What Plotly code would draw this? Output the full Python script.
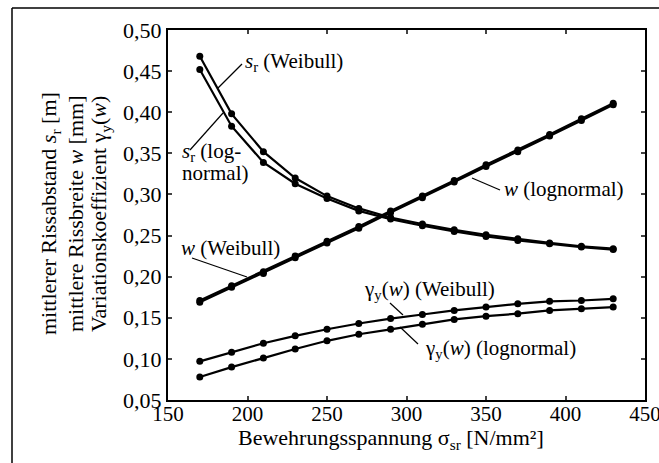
import plotly.graph_objects as go

sigma = [170, 190, 210, 230, 250, 270, 290, 310, 330, 350, 370, 390, 410, 430]
sr_weibull = [0.468, 0.398, 0.352, 0.320, 0.298, 0.283, 0.272, 0.264, 0.257, 0.251, 0.246, 0.241, 0.237, 0.234]
sr_lognormal = [0.452, 0.383, 0.339, 0.313, 0.295, 0.280, 0.270, 0.262, 0.255, 0.249, 0.244, 0.240, 0.236, 0.233]
w_weibull = [0.169, 0.187, 0.204, 0.223, 0.241, 0.259, 0.278, 0.296, 0.315, 0.334, 0.352, 0.371, 0.390, 0.409]
w_lognormal = [0.171, 0.189, 0.206, 0.225, 0.243, 0.261, 0.280, 0.298, 0.317, 0.336, 0.354, 0.373, 0.392, 0.411]
gamma_weibull = [0.097, 0.108, 0.119, 0.128, 0.136, 0.143, 0.149, 0.154, 0.159, 0.163, 0.167, 0.170, 0.171, 0.173]
gamma_lognormal = [0.078, 0.090, 0.101, 0.112, 0.122, 0.130, 0.136, 0.142, 0.148, 0.152, 0.155, 0.159, 0.161, 0.163]

x_ticks = [150, 200, 250, 300, 350, 400, 450]
y_ticks = [0.05, 0.10, 0.15, 0.20, 0.25, 0.30, 0.35, 0.40, 0.45, 0.50]

FONT = "Liberation Serif"

fig = go.Figure()
for ys in [sr_weibull, sr_lognormal, w_weibull, w_lognormal, gamma_weibull, gamma_lognormal]:
    fig.add_trace(go.Scatter(
        x=sigma, y=ys, mode="lines+markers",
        line=dict(color="black", width=2.2),
        marker=dict(color="black", size=7),
        showlegend=False, hoverinfo="skip"))

# pixel -> data helpers for labels/leader lines
def dx(px):
    return 150 + (px - 168) / 1.59

def dy(py):
    return 0.05 + (400 - py) * 0.45 / 370

labels = [
    ("<i>s</i><sub>r</sub> (Weibull)", 243, 62),
    ("<i>s</i><sub>r</sub> (log-", 180, 152),
    ("normal)", 180, 173),
    ("<i>w</i> (Weibull)", 179, 248),
    ("<i>w</i> (lognormal)", 502, 189),
    ("γ<sub>y</sub>(<i>w</i>) (Weibull)", 362, 290),
    ("γ<sub>y</sub>(<i>w</i>) (lognormal)", 423, 349),
]
for txt, px, py in labels:
    fig.add_annotation(x=dx(px), y=dy(py), text=txt, showarrow=False,
                       xanchor="left", yanchor="middle",
                       font=dict(family=FONT, size=21, color="black"))

leaders = [
    (218, 88, 242, 64),
    (190, 150, 223, 113),
    (192, 258, 247, 277),
    (500, 190, 472, 178),
    (390, 303, 403, 315),
    (418, 344, 400, 327),
]
for x0, y0, x1, y1 in leaders:
    fig.add_shape(type="line", x0=dx(x0), y0=dy(y0), x1=dx(x1), y1=dy(y1),
                  line=dict(color="black", width=1.2))

# outer frame (top and left edges)
W, H = 477, 370
fig.add_shape(type="line", xref="paper", yref="paper",
              x0=(12 - 168) / W, y0=(400 - 8) / H, x1=(660 - 168) / W, y1=(400 - 8) / H,
              line=dict(color="black", width=1.5))
fig.add_shape(type="line", xref="paper", yref="paper",
              x0=(12 - 168) / W, y0=(400 - 8) / H, x1=(12 - 168) / W, y1=(400 - 470) / H,
              line=dict(color="black", width=1.5))

# axis titles (three rotated lines)
ytitle_lines = [
    ("mittlerer Rissabstand <i>s</i><sub>r</sub> [m]", 50),
    ("mittlere Rissbreite <i>w</i> [mm]", 75),
    ("Variationskoeffizient γ<sub>y</sub>(<i>w</i>)", 100),
]
for txt, px in ytitle_lines:
    fig.add_annotation(xref="paper", yref="paper", x=(px - 168) / W, y=(400 - 214) / H,
                       text=txt, textangle=-90, showarrow=False,
                       xanchor="center", yanchor="middle",
                       font=dict(family=FONT, size=22, color="black"))
fig.add_annotation(xref="paper", yref="paper", x=(391 - 168) / W, y=(400 - 439) / H,
                   text="Bewehrungsspannung σ<sub>sr</sub> [N/mm²]",
                   showarrow=False, xanchor="center", yanchor="middle",
                   font=dict(family=FONT, size=22, color="black"))

fig.update_layout(
    width=659, height=463,
    margin=dict(l=168, r=14, t=30, b=63),
    paper_bgcolor="white", plot_bgcolor="white",
    separators=",.",
    font=dict(family=FONT, color="black"),
    xaxis=dict(range=[150, 450], tickvals=x_ticks, ticks="inside", ticklen=4, tickwidth=2,
               showline=True, linecolor="black", linewidth=2, mirror="ticks",
               ticklabeloverflow="allow", automargin=False, ticklabelstandoff=-6,
               showgrid=False, zeroline=False, tickfont=dict(family=FONT, size=21, color="black")),
    yaxis=dict(range=[0.05, 0.50], tickvals=y_ticks, tickformat=".2f", ticks="inside",
               ticklen=4, tickwidth=2, automargin=False,
               showline=True, linecolor="black", linewidth=2, mirror="ticks",
               showgrid=False, zeroline=False, tickfont=dict(family=FONT, size=22, color="black")),
)

fig.write_html("out.html", config={"displayModeBar": False},
               post_script="document.body.style.margin='0';document.body.style.overflow='hidden';")
